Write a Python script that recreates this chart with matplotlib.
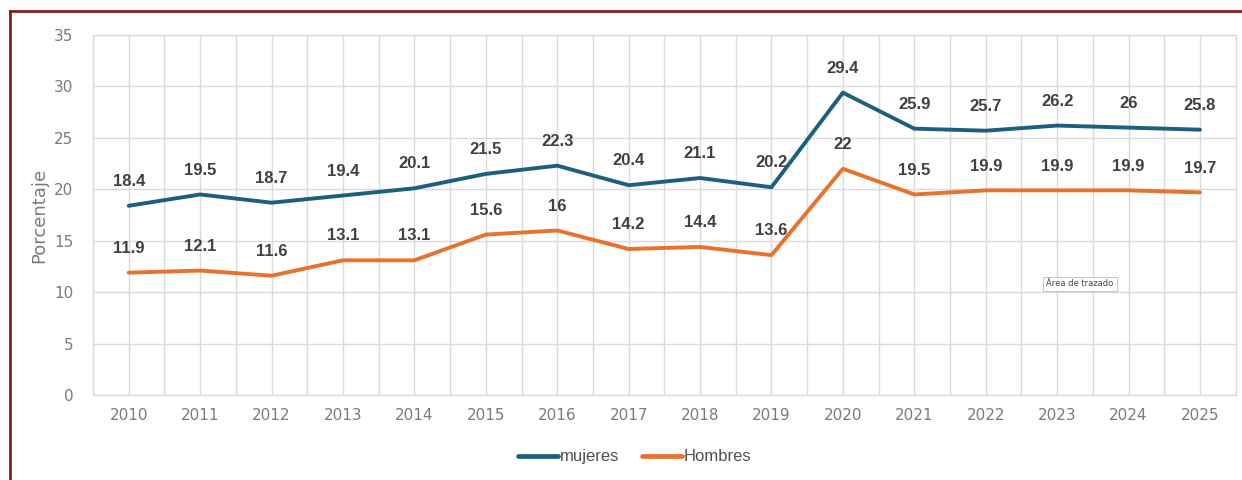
import matplotlib.pyplot as plt
from matplotlib.lines import Line2D
import numpy as np

years = ["2010", "2011", "2012", "2013", "2014", "2015", "2016", "2017",
         "2018", "2019", "2020", "2021", "2022", "2023", "2024", "2025"]
mujeres = [18.4, 19.5, 18.7, 19.4, 20.1, 21.5, 22.3, 20.4, 21.1, 20.2,
           29.4, 25.9, 25.7, 26.2, 26, 25.8]
hombres = [11.9, 12.1, 11.6, 13.1, 13.1, 15.6, 16, 14.2, 14.4, 13.6,
           22, 19.5, 19.9, 19.9, 19.9, 19.7]

c_muj = "#1d5f7e"
c_hom = "#e8722c"
grid_c = "#dadada"
text_c = "#7a7a7a"

fig = plt.figure(figsize=(12.42, 4.8), dpi=100)
ax = fig.add_axes([0.0749, 0.177, 0.920, 0.750])

x = np.arange(len(years))
ax.plot(x, mujeres, color=c_muj, lw=2.8, label="mujeres", solid_capstyle="round", zorder=3)
ax.plot(x, hombres, color=c_hom, lw=2.8, label="Hombres", solid_capstyle="round", zorder=3)

def fmt(v):
    return str(int(v)) if v == int(v) else str(v)

for serie in (mujeres, hombres):
    for xi, v in zip(x, serie):
        ax.annotate(fmt(v), (xi, v), xytext=(0, 17.5), textcoords="offset points",
                    ha="center", va="center", fontsize=12, fontweight="bold",
                    color="#404040", family="Liberation Sans")

ax.set_xlim(-0.5, len(years) - 0.5)
ax.set_ylim(0, 35)
ax.set_yticks(np.arange(0, 36, 5))
ax.set_xticks(x)
ax.set_xticklabels(years)
ax.set_xticks(np.arange(-0.5, len(years), 1), minor=True)
ax.grid(True, which="major", color=grid_c, lw=1.0, zorder=0)
ax.grid(True, which="minor", axis="x", color=grid_c, lw=1.0, zorder=0)
ax.set_axisbelow(True)
for s in ax.spines.values():
    s.set_color(grid_c)
    s.set_linewidth(1.0)
ax.tick_params(which="both", length=0)
ax.tick_params(axis="x", pad=9, labelsize=11, labelcolor=text_c)
ax.tick_params(axis="y", pad=14, labelsize=11, labelcolor=text_c)
ax.set_ylabel("Porcentaje", fontsize=13, color=text_c, labelpad=4)

leg = fig.legend(loc="center", bbox_to_anchor=(0.511, 0.048), ncol=2, frameon=False,
                 prop={"family": "Liberation Sans", "size": 12},
                 handlelength=2.4, handletextpad=0.1, columnspacing=1.4)
for t in leg.get_texts():
    t.set_color("#505050")
for h in leg.get_lines():
    h.set_linewidth(3.4)

# tooltip left in the screenshot
ax.text(12.85, 10.8, "Área de trazado", fontsize=6, color="#444444", ha="left", va="center",
        bbox=dict(boxstyle="square,pad=0.35", fc="white", ec="#bbbbbb", lw=0.6))

# dark red frame at top and left
fig.add_artist(Line2D([10 / 1242, 1.0], [1 - 11 / 480, 1 - 11 / 480], transform=fig.transFigure,
                      color="#8b1a1a", lw=2))
fig.add_artist(Line2D([10 / 1242, 10 / 1242], [0, 1 - 11 / 480], transform=fig.transFigure,
                      color="#8b1a1a", lw=2))

fig.savefig("out.png", dpi=100, facecolor="white")
